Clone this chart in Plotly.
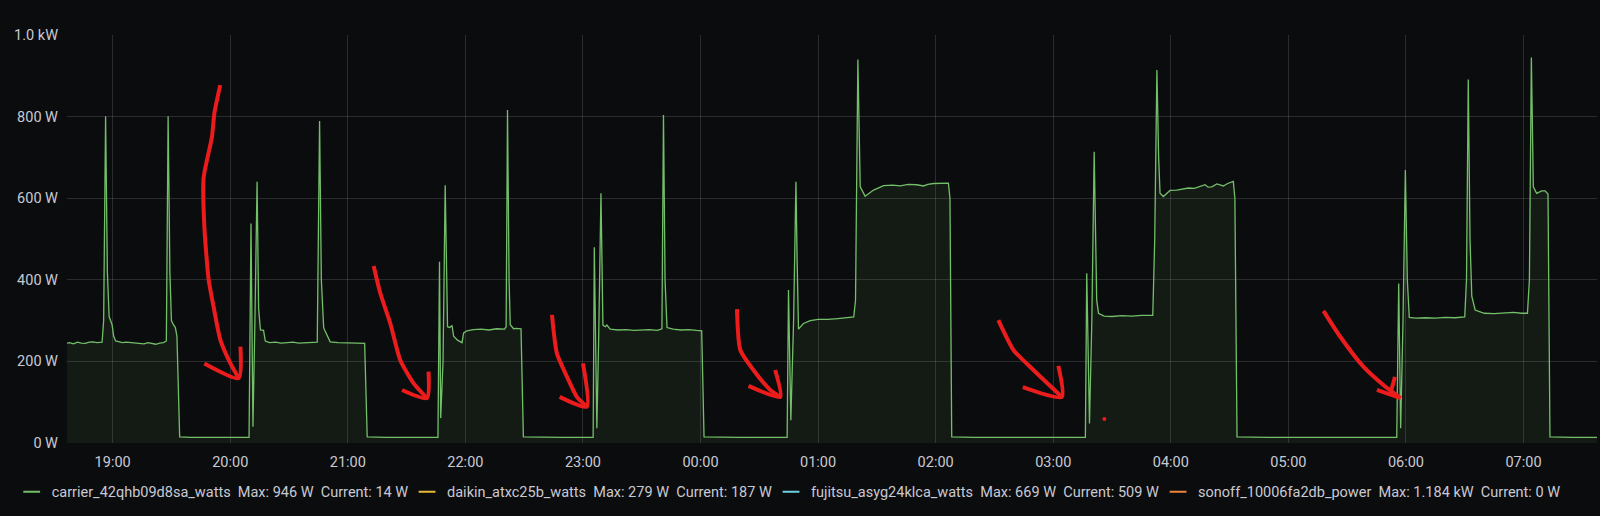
import pandas as pd
import plotly.graph_objects as go

# ---------------- data ----------------
BASE = pd.Timestamp("2023-05-01 18:00")

# carrier series: minutes after 18:00 and watts
carrier_min = [36, 38, 40, 42, 44, 46, 48, 50, 52, 54.6, 55.4, 56.4, 57.3, 58.2, 59.7, 60.5, 61.5, 63, 65, 67,
               70, 72, 74, 76, 78, 80, 82, 84, 86, 87.4, 88.3, 89.2, 90, 91, 92, 92.8, 93.4, 94.2, 100, 110,
               120, 129.6, 130.6, 131.6, 132.6, 133.7, 134.5, 135.4, 137, 137.9, 140, 143, 146, 149, 152, 155,
               158, 161, 164.4, 165.6, 166.5, 167.7, 169.4, 171, 175, 180, 185, 188.6, 189.9, 200, 210, 220,
               226, 226.8, 227.4, 228.6, 229.7, 230.9, 232, 233.2, 234, 236, 238.3, 239.1, 240.8, 244, 248,
               252, 256, 260, 260.8, 261.5, 262.3, 262.9, 264.6, 266, 268.4, 269.6, 280, 290, 300, 305.2,
               305.8, 307.1, 308, 309.2, 310.2, 311.4, 312.2, 313.9, 318, 322, 326, 330, 334, 338, 340.3,
               341.1, 341.9, 342.9, 346, 350, 354, 358, 360.6, 361.8, 370, 380, 390, 400, 404.2, 404.9,
               406.1, 407.5, 408.7, 409.3, 410, 412.5, 416, 420, 425, 430, 435, 438.2, 439.1, 440.3, 441.5,
               444, 448.3, 453.4, 458, 461.9, 466, 470.4, 473.8, 476, 478.9, 483, 486.5, 487.3, 488.2, 500,
               520, 540, 556.4, 557.1, 558.5, 559.7, 560.9, 562.2, 563.1, 566, 570, 575, 580, 585, 590.8,
               591.8, 592.9, 593.8, 594.5, 596.2, 599.6, 603, 606.4, 609, 612, 615, 617.5, 619, 620.9, 623.5,
               626.8, 629, 631.9, 632.7, 633.8, 650, 670, 690, 715.3, 716.3, 717.3, 718.5, 719.7, 720.7,
               721.7, 725, 730, 735, 740, 745, 750, 750.9, 751.8, 752.7, 753.6, 755.3, 760, 765, 770, 775,
               779, 782, 783, 784, 785, 786.7, 789.3, 791, 792.5, 793.5, 805, 818]
carrier_watts = [244, 246, 243, 247, 245, 244, 247, 248, 246, 247, 300, 801, 420, 310, 290, 262, 250, 249, 246, 247,
                 246, 245, 244, 243, 246, 244, 242, 245, 246, 250, 801, 420, 300, 290, 283, 262, 150, 15, 14, 14,
                 14, 14, 538, 40, 300, 640, 330, 277, 276, 250, 246, 247, 245, 246, 247, 245,
                 246, 247, 247, 789, 400, 282, 262, 248, 246, 246, 245, 244, 15, 14, 14, 14,
                 14, 444, 61, 200, 632, 285, 283, 288, 262, 252, 246, 270, 275, 278, 279,
                 277, 280, 279, 285, 816, 400, 290, 280, 281, 280, 15, 14, 14, 14, 14,
                 480, 36, 250, 612, 289, 285, 289, 279, 277, 278, 276, 277, 278, 276, 280,
                 804, 400, 283, 279, 277, 278, 276, 275, 15, 14, 14, 14, 14, 14, 375,
                 56, 300, 640, 450, 279, 293, 300, 303, 303, 305, 307, 309, 350, 940, 628,
                 605, 620, 631, 632, 630, 634, 633, 630, 634, 636, 636, 637, 600, 15, 14,
                 14, 14, 14, 416, 48, 300, 714, 350, 318, 311, 310, 312, 311, 313, 313,
                 500, 914, 700, 612, 604, 619, 620, 622, 625, 624, 628, 633, 627, 628, 635,
                 630, 636, 641, 600, 15, 14, 14, 14, 14, 391, 36, 300, 669, 400,
                 308, 306, 307, 306, 308, 307, 309, 400, 891, 500, 360, 326, 318, 317, 318, 320,
                 318, 318, 400, 945, 628, 612, 618, 618, 610, 15, 14, 14]

series_names = ["carrier_42qhb09d8sa_watts", "daikin_atxc25b_watts",
                "fujitsu_asyg24klca_watts", "sonoff_10006fa2db_power"]
series_max = ["946 W", "279 W", "669 W", "1.184 kW"]
series_current = ["14 W", "187 W", "509 W", "0 W"]
series_colors = ["#73BF69", "#EAB839", "#6ED0E0", "#EF843C"]

y_tick_vals = [0, 200, 400, 600, 800, 1000]
y_tick_text = ["0 W", "200 W", "400 W", "600 W", "800 W", "1.0 kW"]

# hand-drawn red arrows (minutes after 18:00, watts); None separates strokes
arrow1_min = [114.9, 111.9, 110.7, 106.4, 106.8, 109.0, 111.5, 115.0, 120.1, 124.3, None, 106.8, 124.3, 125.2]
arrow1_w = [877, 808, 751, 649, 530, 400, 334, 252, 195, 159, None, 195, 159, 236]
arrow2_min = [193.2, 196.6, 201.7, 206.8, 213.6, 220.4, None, 207.7, 220.4, 221.2]
arrow2_w = [434, 367, 293, 203, 146, 110, None, 130, 110, 175]
arrow3_min = [284.2, 286.7, 291.8, 296.9, 302.0, None, 288.1, 302.0, 300.0]
arrow3_w = [314, 220, 163, 113, 89, None, 113, 89, 195]
arrow4_min = [378.6, 380.3, 387.0, 395.6, 400.7, None, 384.5, 400.7, 398.1]
arrow4_w = [328, 228, 179, 130, 113, None, 140, 113, 179]
arrow5_min = [512.0, 519.7, 529.9, 544.4, None, 524.5, 544.4, 542.6]
arrow5_w = [301, 228, 179, 113, None, 137, 113, 189]
arrow6_min = [677.9, 686.4, 698.3, 708.5, 717.3, None, 705.2, 717.3, None, 714.4, 711.9]
arrow6_w = [324, 261, 187, 142, 110, None, 130, 110, None, 162, 118]
dot_min = [566.1]
dot_w = [59]

X_START_MIN, X_END_MIN = 36.7, 817.5

# legend entry placement (left edge of each legend box, fraction of page width)
legend_x = [0.0073, 0.2544, 0.4819, 0.7238]


def to_time(mins):
    return [None if m is None else BASE + pd.Timedelta(minutes=m) for m in mins]


TEXT = "#c9c9d2"
GRID = "rgba(204,204,220,0.17)"
BG = "#0b0c0e"
FONT = "Roboto, 'Open Sans', sans-serif"
FS = 14.5

fig = go.Figure()

# data trace (carrier)
fig.add_trace(go.Scatter(
    x=to_time(carrier_min), y=carrier_watts, mode="lines", name=series_names[0],
    legendgroup=series_names[0], showlegend=False,
    line=dict(color=series_colors[0], width=1.3),
    fill="tozeroy", fillcolor="rgba(115,191,105,0.09)",
))

# legend entries: one per series, each in its own legend box
legend_ids = ["legend", "legend2", "legend3", "legend4"]
for i, name in enumerate(series_names):
    label = f"{name}\u00a0 Max: {series_max[i]}\u00a0 Current: {series_current[i]}"
    fig.add_trace(go.Scatter(
        x=[None], y=[None], mode="markers", name=label,
        legendgroup=name, legend=legend_ids[i], showlegend=True,
        marker=dict(symbol="line-ew-open", size=12, color=series_colors[i],
                    line=dict(color=series_colors[i], width=2)),
    ))

arrows = [(arrow1_min, arrow1_w), (arrow2_min, arrow2_w), (arrow3_min, arrow3_w),
          (arrow4_min, arrow4_w), (arrow5_min, arrow5_w), (arrow6_min, arrow6_w)]
for am, aw in arrows:
    fig.add_trace(go.Scatter(
        x=to_time(am), y=aw, mode="lines", showlegend=False, hoverinfo="skip",
        line=dict(color="#ec1c1c", width=4, shape="spline", smoothing=0.6),
        connectgaps=False,
    ))
fig.add_trace(go.Scatter(
    x=to_time(dot_min), y=dot_w, mode="markers", showlegend=False, hoverinfo="skip",
    marker=dict(color="#ec1c1c", size=4),
))

legend_common = dict(
    orientation="h", xref="container", yref="container",
    y=0.047, xanchor="left", yanchor="middle",
    font=dict(family=FONT, size=FS, color=TEXT),
    bgcolor="rgba(0,0,0,0)", itemwidth=30,
)

fig.update_layout(
    width=1600, height=516,
    margin=dict(l=67, r=3, t=35, b=73, autoexpand=False),
    paper_bgcolor=BG, plot_bgcolor=BG,
    font=dict(family=FONT, size=FS, color=TEXT),
    showlegend=True,
    legend=dict(x=legend_x[0], **legend_common),
    legend2=dict(x=legend_x[1], **legend_common),
    legend3=dict(x=legend_x[2], **legend_common),
    legend4=dict(x=legend_x[3], **legend_common),
)

fig.update_xaxes(
    type="date",
    range=[BASE + pd.Timedelta(minutes=X_START_MIN), BASE + pd.Timedelta(minutes=X_END_MIN)],
    tickformat="%H:%M", dtick=3600000,
    tick0=BASE,
    showgrid=True, gridcolor=GRID, gridwidth=1,
    zeroline=False, showline=False, ticks="",
    ticklabelstandoff=8,
    tickfont=dict(family=FONT, size=FS, color=TEXT),
)
fig.update_yaxes(
    range=[0, 1000],
    tickvals=y_tick_vals, ticktext=y_tick_text,
    showgrid=True, gridcolor=GRID, gridwidth=1,
    zeroline=False, showline=False, ticks="",
    ticklabelstandoff=8,
    tickfont=dict(family=FONT, size=FS, color=TEXT),
)

fig.write_html(
    "out.html",
    config={"displayModeBar": False},
    post_script="document.body.style.margin='0';document.body.style.background='#0b0c0e';"
                "document.documentElement.style.background='#0b0c0e';",
)
